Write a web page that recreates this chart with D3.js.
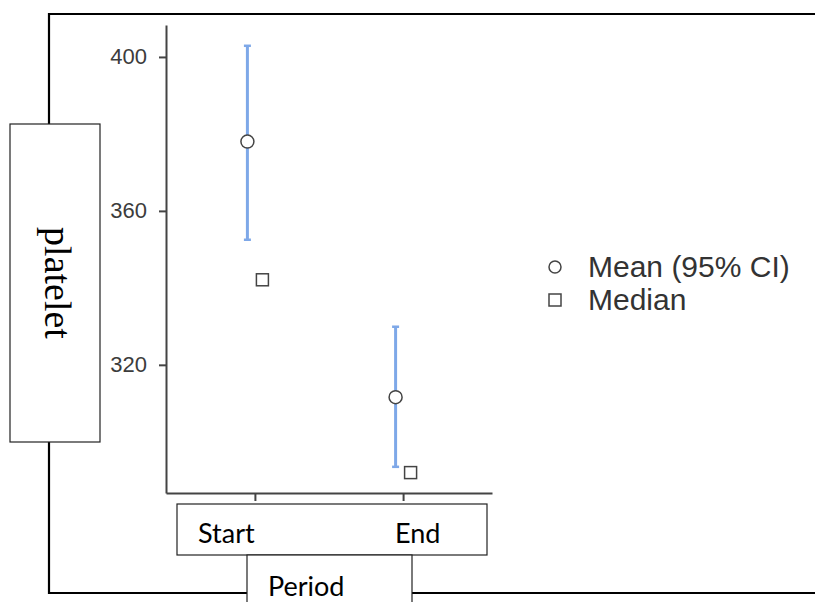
<!DOCTYPE html>
<html lang="en">
<head>
    <meta charset="UTF-8">
    <title>platelet by Period</title>
    <script src="https://d3js.org/d3.v7.min.js"></script>
    <style>
        html, body { margin: 0; padding: 0; background: #fff; overflow: hidden; }
        svg { display: block; }
        .tick text { font-family: "Liberation Sans", Arial, sans-serif; font-size: 22px; fill: #3c3c3c; }
        .legend text { font-family: "Liberation Sans", Arial, sans-serif; font-size: 30px; fill: #333; }
        .box-label { font-family: Lato, "Open Sans", sans-serif; font-size: 27px; fill: #000; }
    </style>
</head>
<body>
    <svg width="815" height="602"></svg>
    <script>
        const periods = ["Start", "End"];
        const means = [378.0, 311.6];
        const ciLower = [352.5, 293.5];
        const ciUpper = [402.9, 329.9];
        const medians = [342.1, 292.0];
        const yTicks = [320, 360, 400];
        const legendLabels = ["Mean (95% CI)", "Median"];

        const svg = d3.select("svg");

        // outer frame, open on the right; the label boxes are drawn over it
        svg.append("path")
           .attr("d", "M815,14H49V593H815")
           .attr("fill", "none").attr("stroke", "#000").attr("stroke-width", 2.2);

        const x = d3.scalePoint().domain(periods).range([166, 492]).padding(0.6);
        const y = d3.scaleLinear().domain([286.7, 408.3]).range([493, 25]);
        const dodge = 7.5;
        const blue = "#7ea8e8";

        const yAxis = svg.append("g")
            .attr("transform", "translate(166,0)")
            .call(d3.axisLeft(y).tickValues(yTicks).tickSize(7).tickSizeOuter(0).tickPadding(12));

        const xAxis = svg.append("g")
            .attr("transform", "translate(0,493)")
            .call(d3.axisBottom(x).tickSize(8).tickSizeOuter(0).tickFormat(""));

        [yAxis, xAxis].forEach(a => {
            a.select(".domain").attr("stroke", "#444").attr("stroke-width", 2);
            a.selectAll(".tick line").attr("stroke", "#444").attr("stroke-width", 2);
        });

        const g = svg.append("g");

        // confidence intervals
        g.selectAll(".ci")
         .data(periods)
         .enter().append("line")
         .attr("x1", d => x(d) - dodge).attr("x2", d => x(d) - dodge)
         .attr("y1", (d, i) => y(ciLower[i])).attr("y2", (d, i) => y(ciUpper[i]))
         .attr("stroke", blue).attr("stroke-width", 3);

        [ciLower, ciUpper].forEach(arr => {
            g.selectAll(null)
             .data(periods)
             .enter().append("line")
             .attr("x1", d => x(d) - dodge - 3.5).attr("x2", d => x(d) - dodge + 3.5)
             .attr("y1", (d, i) => y(arr[i])).attr("y2", (d, i) => y(arr[i]))
             .attr("stroke", blue).attr("stroke-width", 2.5);
        });

        // means
        g.selectAll(".mean")
         .data(periods)
         .enter().append("circle")
         .attr("cx", d => x(d) - dodge)
         .attr("cy", (d, i) => y(means[i]))
         .attr("r", 6.5)
         .attr("fill", "#fff").attr("stroke", "#444").attr("stroke-width", 1.5);

        // medians
        g.selectAll(".median")
         .data(periods)
         .enter().append("rect")
         .attr("x", d => x(d) + dodge - 6)
         .attr("y", (d, i) => y(medians[i]) - 6)
         .attr("width", 12).attr("height", 12)
         .attr("fill", "#fff").attr("stroke", "#444").attr("stroke-width", 1.5);

        // legend
        const legend = svg.append("g").attr("class", "legend");
        legend.append("circle").attr("cx", 555).attr("cy", 267).attr("r", 6)
              .attr("fill", "#fff").attr("stroke", "#444").attr("stroke-width", 1.5);
        legend.append("rect").attr("x", 549).attr("y", 294).attr("width", 12).attr("height", 12)
              .attr("fill", "#fff").attr("stroke", "#444").attr("stroke-width", 1.5);
        legend.selectAll("text")
              .data(legendLabels)
              .enter().append("text")
              .attr("x", 588).attr("y", (d, i) => 277 + i * 33)
              .text(d => d);

        // y label box
        svg.append("rect").attr("x", 10).attr("y", 124).attr("width", 90).attr("height", 318)
           .attr("fill", "#fff").attr("stroke", "#222").attr("stroke-width", 1.2);
        svg.append("text")
           .attr("transform", "translate(45,283) rotate(90)")
           .attr("text-anchor", "middle")
           .style("font-family", "'Liberation Serif', 'Times New Roman', serif")
           .style("font-size", "38px")
           .text("platelet");

        // category box
        svg.append("rect").attr("x", 177).attr("y", 504).attr("width", 310).attr("height", 51)
           .attr("fill", "#fff").attr("stroke", "#222").attr("stroke-width", 1.2);
        svg.append("text").attr("class", "box-label").attr("x", 198).attr("y", 543).text(periods[0]);
        svg.append("text").attr("class", "box-label").attr("x", 395).attr("y", 543).text(periods[1]);

        // axis title box
        svg.append("rect").attr("x", 247).attr("y", 555).attr("width", 165).attr("height", 60)
           .attr("fill", "#fff").attr("stroke", "#222").attr("stroke-width", 1.2);
        svg.append("text").attr("class", "box-label").attr("x", 268).attr("y", 596).text("Period");
    </script>
</body>
</html>
